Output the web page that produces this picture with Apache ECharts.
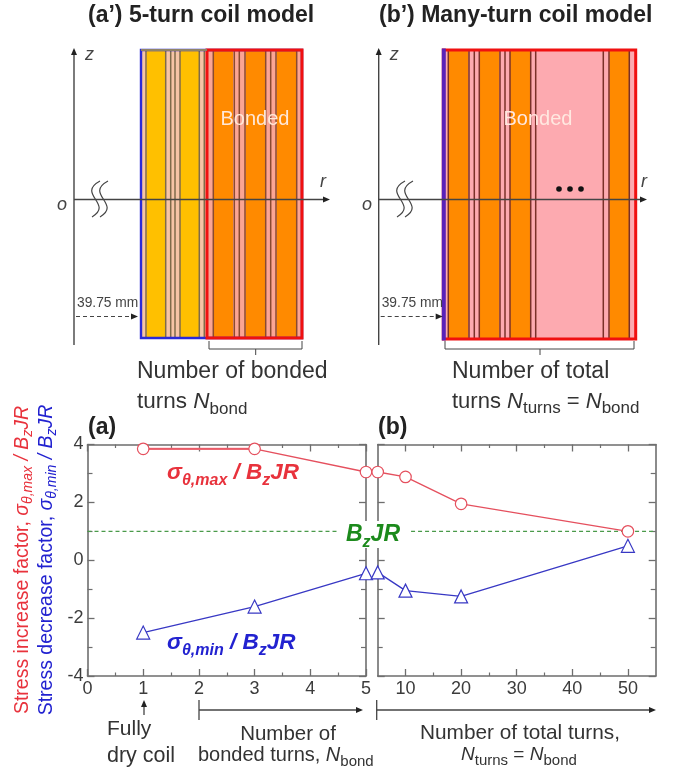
<!DOCTYPE html>
<html><head><meta charset="utf-8">
<style>html,body{margin:0;padding:0;background:#fff}#c{width:674px;height:768px}</style>
<script src="https://cdn.jsdelivr.net/npm/echarts@6/dist/echarts.min.js"></script>
</head><body><div id="c"></div>
<script>
// ---- plot data ----
const bondedTurnsNumber = [1, 3, 5];
const stressMax5Turn = [3.85, 3.85, 3.05];
const stressMin5Turn = [-2.5, -1.6, -0.45];
const totalTurnsNumber = [5, 10, 20, 50];
const stressMaxMany = [3.05, 2.88, 1.95, 1.0];
const stressMinMany = [-0.42, -1.05, -1.25, 0.5];
const refLevel = 1;
const refSpanA = [0, 4.5];
const refSpanB = [11, 55];
const xMajorA = [0, 1, 2, 3, 4, 5];
const xMinorA = [0.5, 1.5, 2.5, 3.5, 4.5];
const xMajorB = [10, 20, 30, 40, 50];
const xMinorB = [15, 25, 35, 45];
const yMajor = [-4, -2, 0, 2, 4];
const yMinor = [-3, -1, 1, 3];
// ---- coil cross-section data (radial position from inner edge) ----
const coilASpan = [0, 161];
const coilABondedSpan = [66, 161];
const coilADryTurns = [[5.5, 24.5], [39, 58]];
const coilABondedTurns = [[72, 92], [104.7, 124], [135.7, 155]];
const coilADryLines = [5, 24.7, 29.7, 34, 39, 58.3, 63.3];
const coilABondedLines = [72.3, 93.3, 98.3, 104, 124.7, 129.7, 135, 155.7];
const coilBSpan = [0, 192.4];
const coilBTurns = [[5.7, 25], [36.7, 56], [66.7, 87.4], [166, 186]];
const coilBLines = [5, 25.7, 31, 36, 56.7, 61.7, 66.7, 87.4, 92.4, 160, 165.7, 186];

const FONT = '"Liberation Sans", Arial, sans-serif';
const GRAY = '#6e6e6e', TXT = '#3c3c3c';

// ---------- axes ----------
const xAxes = [], yAxes = [];
function addAxes(list, grid, positions, min, max, major, minor, majorLen, minorLen, labels) {
  positions.forEach((position, i) => {
    const common = { type: 'value', gridIndex: grid, position, min, max, splitLine: { show: false } };
    list.push(Object.assign({}, common, {
      axisLine: { show: true, onZero: false, lineStyle: { color: GRAY, width: 1.6 } },
      axisTick: { show: true, inside: true, length: majorLen, customValues: major, lineStyle: { color: GRAY, width: 1.3 } },
      axisLabel: (labels && i === 0)
        ? { show: true, customValues: labels, color: TXT, fontFamily: FONT, fontSize: 18, margin: 4, hideOverlap: false, showMinLabel: true, showMaxLabel: true }
        : { show: false }
    }));
    list.push(Object.assign({}, common, {
      axisLine: { show: false, onZero: false },
      axisTick: { show: true, inside: true, length: minorLen, customValues: minor, lineStyle: { color: GRAY, width: 1.2 } },
      axisLabel: { show: false }
    }));
  });
}
addAxes(xAxes, 0, ['bottom', 'top'], 0, 5, xMajorA, xMinorA, 7, 3.5, xMajorA);
addAxes(xAxes, 1, ['bottom', 'top'], 5, 55, xMajorB, xMinorB, 7, 3.5, xMajorB);
addAxes(yAxes, 0, ['left', 'right'], -4, 4, yMajor, yMinor, 7, 5, yMajor);
addAxes(yAxes, 1, ['left', 'right'], -4, 4, yMajor, yMinor, 7, 5, null);
const xA = 0, xB = 4, yA = 0, yB = 4;
// hidden axes of the coil schematics
const xCoilA = xAxes.length;
xAxes.push({ type: 'value', gridIndex: 2, min: coilASpan[0], max: coilASpan[1], show: false });
const xCoilB = xAxes.length;
xAxes.push({ type: 'value', gridIndex: 3, min: coilBSpan[0], max: coilBSpan[1], show: false });
const yCoilA = yAxes.length;
yAxes.push({ type: 'value', gridIndex: 2, min: 0, max: 1, show: false });
const yCoilB = yAxes.length;
yAxes.push({ type: 'value', gridIndex: 3, min: 0, max: 1, show: false });

// ---------- series helpers ----------
const zip = (a, b) => a.map((v, i) => [v, b[i]]);
function lineS(name, x, y, data, color, symbol, size, width) {
  return {
    name, type: 'line', xAxisIndex: x, yAxisIndex: y, data, symbol, symbolSize: size, z: 5, clip: false,
    lineStyle: { color, width: width || 1.3 },
    itemStyle: { color: '#fff', borderColor: color, borderWidth: 1.2, opacity: 1 },
    emphasis: { disabled: true }, silent: true, animation: false
  };
}
function refLine(x, y, span) {
  return {
    type: 'line', xAxisIndex: x, yAxisIndex: y, symbol: 'none', z: 3, silent: true, animation: false,
    data: span.map(v => [v, refLevel]),
    lineStyle: { color: '#4a9a4a', width: 1.2, type: [4, 3] }
  };
}
function bands(x, y, data, fill, z) {
  return {
    type: 'custom', xAxisIndex: x, yAxisIndex: y, data, z: z || 1, silent: true, animation: false, clip: false,
    encode: { x: [0, 1] },
    renderItem(p, api) {
      const a = api.coord([api.value(0), 1]), b = api.coord([api.value(1), 0]);
      return { type: 'rect', shape: { x: a[0], y: a[1], width: b[0] - a[0], height: b[1] - a[1] }, style: { fill, stroke: null } };
    }
  };
}
function vlines(x, y, data, stroke, width) {
  return {
    type: 'custom', xAxisIndex: x, yAxisIndex: y, data: data.map(v => [v]), z: 3, silent: true, animation: false, clip: false,
    encode: { x: 0 },
    renderItem(p, api) {
      const a = api.coord([api.value(0), 1]), b = api.coord([api.value(0), 0]);
      return { type: 'line', shape: { x1: a[0], y1: a[1], x2: b[0], y2: b[1] }, style: { stroke, lineWidth: width } };
    }
  };
}
function outline(x, y, span, stroke, width, z) {
  return {
    type: 'custom', xAxisIndex: x, yAxisIndex: y, data: [span], z, silent: true, animation: false, clip: false,
    encode: { x: [0, 1] },
    renderItem(p, api) {
      const a = api.coord([api.value(0), 1]), b = api.coord([api.value(1), 0]);
      return { type: 'rect', shape: { x: a[0], y: a[1], width: b[0] - a[0], height: b[1] - a[1] }, style: { fill: null, stroke, lineWidth: width } };
    }
  };
}

const series = [
  // coil A
  bands(xCoilA, yCoilA, [coilASpan], '#f6c4a6', 1),
  bands(xCoilA, yCoilA, [coilABondedSpan], '#fba594', 1),
  bands(xCoilA, yCoilA, coilADryTurns, '#ffc000', 2),
  bands(xCoilA, yCoilA, coilABondedTurns, '#ff8a00', 2),
  vlines(xCoilA, yCoilA, coilADryLines, '#7f6b4a', 1.5),
  vlines(xCoilA, yCoilA, coilABondedLines, '#8a4a30', 1.5),
  outline(xCoilA, yCoilA, coilASpan, '#2a2ad8', 2.4, 4),
  outline(xCoilA, yCoilA, coilABondedSpan, '#f01010', 3, 5),
  // coil B
  bands(xCoilB, yCoilB, [coilBSpan], '#fdaab0', 1),
  bands(xCoilB, yCoilB, coilBTurns, '#ff8a00', 2),
  vlines(xCoilB, yCoilB, coilBLines, '#7a3028', 1.5),
  outline(xCoilB, yCoilB, [coilBSpan[0], coilBSpan[0] + 1], '#5a22b8', 3, 6),
  outline(xCoilB, yCoilB, coilBSpan, '#f01010', 3, 5),
  // curves
  refLine(xA, yA, refSpanA),
  refLine(xB, yB, refSpanB),
  lineS('max5a', xA, yA, zip(bondedTurnsNumber.slice(0, 2), stressMax5Turn.slice(0, 2)), '#f2808a', 'none', 0, 2.4),
  lineS('max5', xA, yA, zip(bondedTurnsNumber, stressMax5Turn), '#e5505e', 'circle', 11.5),
  lineS('min5', xA, yA, zip(bondedTurnsNumber, stressMin5Turn), '#3838c4', 'triangle', 13),
  lineS('maxN', xB, yB, zip(totalTurnsNumber, stressMaxMany), '#e5505e', 'circle', 11.5),
  lineS('minN', xB, yB, zip(totalTurnsNumber, stressMinMany), '#3838c4', 'triangle', 13)
];

// ---------- graphic helpers ----------
const LINE = '#444';
const ln = (x1, y1, x2, y2, w, dash, color) => ({ type: 'line', silent: true, z: 20, shape: { x1, y1, x2, y2 }, style: { stroke: color || LINE, lineWidth: w || 1.3, lineDash: dash || null } });
const tri = (pts) => ({ type: 'polygon', silent: true, z: 20, shape: { points: pts }, style: { fill: '#222' } });
const arrowR = (x, y) => tri([[x, y], [x - 7, y - 3], [x - 7, y + 3]]);
const arrowU = (x, y) => tri([[x, y], [x - 3, y + 7], [x + 3, y + 7]]);
const bez = (x1, y1, cx1, cy1, cx2, cy2, x2, y2) => ({ type: 'bezierCurve', silent: true, z: 20, shape: { x1, y1, cpx1: cx1, cpy1: cy1, cpx2: cx2, cpy2: cy2, x2, y2 }, style: { stroke: LINE, lineWidth: 1.2, fill: null } });
function txt(x, y, text, size, o) {
  o = o || {};
  return {
    type: 'text', silent: true, x, y, rotation: o.rotation || 0, z: 21,
    style: {
      text, x: 0, y: 0, fill: o.fill || '#333', fontFamily: FONT, fontSize: size,
      fontWeight: o.bold ? 'bold' : 'normal', fontStyle: o.italic ? 'italic' : 'normal',
      align: o.align || 'left', verticalAlign: 'middle', rich: o.rich
    }
  };
}
// text with lowered subscripts built from rich tokens
function richStyles(size, subSize, fill, bold, italic) {
  const base = { fontFamily: FONT, fill, color: fill, fontWeight: bold ? 'bold' : 'normal' };
  const lh = Math.round(size * 1.2), drop = Math.round(size * 0.28), slh = Math.round(subSize * 1.2);
  return {
    m: Object.assign({}, base, { fontSize: size, lineHeight: lh, verticalAlign: 'top', fontStyle: italic ? 'italic' : 'normal' }),
    i: Object.assign({}, base, { fontSize: size, lineHeight: lh, verticalAlign: 'top', fontStyle: 'italic' }),
    s: Object.assign({}, base, { fontSize: subSize, lineHeight: slh, padding: [lh + drop - slh, 0, 0, 0], verticalAlign: 'bottom', fontStyle: italic ? 'italic' : 'normal' }),
    si: Object.assign({}, base, { fontSize: subSize, lineHeight: slh, padding: [lh + drop - slh, 0, 0, 0], verticalAlign: 'bottom', fontStyle: 'italic' })
  };
}
function schematicAxes(zx, endX, rLabelX, oX, breakX) {
  return [
    ln(zx, 50, zx, 345, 1.4), arrowU(zx, 48),
    ln(zx, 199.5, endX - 5, 199.5, 1.4), arrowR(endX, 199.5),
    bez(breakX + 9, 181, breakX - 15, 194, breakX + 23, 204, breakX + 1, 217),
    bez(breakX + 17, 181, breakX - 7, 194, breakX + 31, 204, breakX + 9, 217),
    ln(zx + 2, 316.5, zx + 58, 316.5, 1.1, [4, 3]), arrowR(zx + 64, 316.5),
    txt(zx + 11, 55, 'z', 18, { italic: true, fill: '#444' }),
    txt(rLabelX, 182, 'r', 18, { italic: true, fill: '#444' }),
    txt(oX, 205, 'o', 18, { italic: true, fill: '#444' }),
    txt(zx + 3, 303.5, '39.75 mm', 13.8, { fill: '#444' })
  ];
}
function brace(x1, x2, mid) {
  return [ln(x1, 341, x1, 349, 1), ln(x2, 341, x2, 349, 1), ln(x1, 349, x2, 349, 1), ln(mid, 349, mid, 355, 1)];
}

const graphics = [
  txt(88, 16, '(a’) 5-turn coil model', 23, { bold: true, fill: '#222' }),
  txt(379, 16, '(b’) Many-turn coil model', 23, { bold: true, fill: '#222' }),
  ln(141, 50, 207, 50, 2, null, '#8f8268'),
  ...schematicAxes(74, 330, 320, 57, 91),
  ...schematicAxes(378.7, 647, 641, 362, 396),
  txt(255, 119, 'Bonded', 20, { fill: '#ffe8d8', align: 'center' }),
  txt(538, 119, 'Bonded', 20, { fill: '#ffe8e0', align: 'center' }),
  { type: 'circle', silent: true, z: 21, shape: { cx: 559, cy: 189, r: 2.8 }, style: { fill: '#111' } },
  { type: 'circle', silent: true, z: 21, shape: { cx: 570, cy: 189, r: 2.8 }, style: { fill: '#111' } },
  { type: 'circle', silent: true, z: 21, shape: { cx: 581, cy: 189, r: 2.8 }, style: { fill: '#111' } },
  ...brace(209, 302, 255.7),
  ...brace(445, 634, 540),
  txt(137, 372, 'Number of bonded', 23, { fill: '#333' }),
  txt(137, 404, '{m|turns }{i|N}{s|bond}', 22.5, { rich: richStyles(22.5, 17, '#333') }),
  txt(452, 372, 'Number of total', 23, { fill: '#333' }),
  txt(452, 404, '{m|turns }{i|N}{s|turns}{m| = }{i|N}{s|bond}', 22, { rich: richStyles(22, 17, '#333') }),
  txt(88, 428, '(a)', 23, { bold: true, fill: '#222' }),
  txt(378, 428, '(b)', 23, { bold: true, fill: '#222' }),
  { type: 'rect', silent: true, z: 15, shape: { x: 343, y: 521, width: 62, height: 27 }, style: { fill: '#fff' } },
  txt(167, 475, '{m|σ}{s|θ,max}{m| / B}{s|z}{m|JR}', 22.5, { rich: richStyles(22.5, 16, '#e8323c', true, true) }),
  txt(167, 645, '{m|σ}{s|θ,min}{m| / B}{s|z}{m|JR}', 22.5, { rich: richStyles(22.5, 16, '#2222d0', true, true) }),
  txt(346, 537, '{m|B}{s|z}{m|JR}', 23, { rich: richStyles(23, 16, '#1c8a1c', true, true) }),
  txt(24, 560, '{m|Stress increase factor, }{i|σ}{si|θ,max}{i| / B}{si|z}{i|JR}', 19.5, { rotation: Math.PI / 2, align: 'center', rich: richStyles(19.5, 14, '#e8323c') }),
  txt(48, 560, '{m|Stress decrease factor, }{i|σ}{si|θ,min}{i| / B}{si|z}{i|JR}', 19.5, { rotation: Math.PI / 2, align: 'center', rich: richStyles(19.5, 14, '#2222d0') }),
  ln(144, 715, 144, 705, 1.3), arrowU(144, 700),
  txt(107, 729, 'Fully', 21, { fill: '#333' }),
  txt(107, 756, 'dry coil', 21.5, { fill: '#333' }),
  ln(199, 700, 199, 720, 1.3), ln(199, 710, 357, 710, 1.3), arrowR(363, 710),
  ln(376.7, 700, 376.7, 720, 1.3), ln(376.7, 710, 650, 710, 1.3), arrowR(656, 710),
  txt(288, 734, 'Number of', 20.5, { align: 'center', fill: '#333' }),
  txt(198, 757, '{m|bonded turns, }{i|N}{s|bond}', 20, { rich: richStyles(20, 15, '#333') }),
  txt(520, 733, 'Number of total turns,', 20.8, { align: 'center', fill: '#333' }),
  txt(461, 757, '{i|N}{s|turns}{m| = }{i|N}{s|bond}', 19, { rich: richStyles(19, 15, '#333') })
];

const chart = echarts.init(document.getElementById('c'), null, { renderer: 'canvas' });
chart.setOption({
  animation: false,
  backgroundColor: '#fff',
  grid: [
    { left: 87.5, top: 444.5, width: 278.5, height: 231.5 },
    { left: 377.7, top: 444.5, width: 278, height: 231.5 },
    { left: 141, top: 50, width: 161, height: 288 },
    { left: 443.3, top: 50, width: 192.4, height: 289 }
  ],
  xAxis: xAxes,
  yAxis: yAxes,
  series,
  graphic: { elements: graphics }
});
</script></body></html>
